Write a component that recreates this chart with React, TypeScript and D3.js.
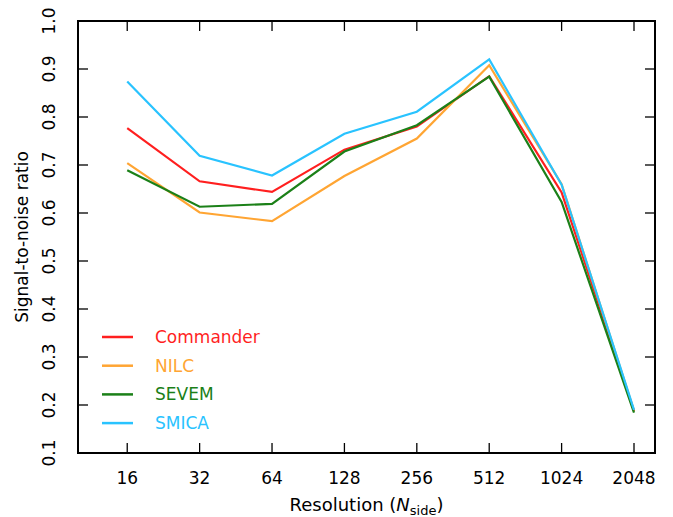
import React from "react";
import * as d3 from "d3";

const resolutions = ["16", "32", "64", "128", "256", "512", "1024", "2048"];
const commander = [0.777, 0.666, 0.644, 0.732, 0.780, 0.885, 0.643, 0.187];
const nilc = [0.704, 0.601, 0.583, 0.677, 0.755, 0.908, 0.660, 0.188];
const sevem = [0.689, 0.613, 0.619, 0.728, 0.783, 0.884, 0.623, 0.184];
const smica = [0.874, 0.719, 0.678, 0.765, 0.811, 0.920, 0.659, 0.190];
const yTicks = [0.1, 0.2, 0.3, 0.4, 0.5, 0.6, 0.7, 0.8, 0.9, 1.0];

const seriesNames = ["Commander", "NILC", "SEVEM", "SMICA"];
const seriesValues = [commander, nilc, sevem, smica];
const seriesColors = ["#ff1f1f", "#ffa533", "#1b8018", "#29c3ff"];

const W = 673, H = 517;
const L = 78, R = 655, T = 21, B = 453;
const FONT = "'DejaVu Sans', sans-serif";

export default function App() {
  const x = d3.scaleLinear().domain([-0.68, 7.29]).range([L, R]);
  const y = d3.scaleLinear().domain([0.1, 1.0]).range([B, T]);
  const line = d3
    .line<number>()
    .x((_, i) => x(i))
    .y((v) => y(v));
  const tick = 10;
  return (
    <svg
      width={W}
      height={H}
      style={{ position: "absolute", left: 0, top: 0, background: "#fff" }}
    >
      {seriesValues.map((vals, k) => (
        <path
          key={seriesNames[k]}
          d={line(vals) || ""}
          fill="none"
          stroke={seriesColors[k]}
          strokeWidth={2.2}
          strokeLinejoin="miter"
        />
      ))}
      {resolutions.map((r, i) => (
        <g key={r}>
          <line x1={x(i)} x2={x(i)} y1={B} y2={B - tick} stroke="#000" strokeWidth={1.3} />
          <line x1={x(i)} x2={x(i)} y1={T} y2={T + tick} stroke="#000" strokeWidth={1.3} />
          <text
            x={x(i)}
            y={484}
            textAnchor="middle"
            fontFamily={FONT}
            fontSize={17}
            fill="#000"
          >
            {r}
          </text>
        </g>
      ))}
      {yTicks.map((t) => (
        <g key={t}>
          <line x1={L} x2={L + tick} y1={y(t)} y2={y(t)} stroke="#000" strokeWidth={1.3} />
          <line x1={R} x2={R - tick} y1={y(t)} y2={y(t)} stroke="#000" strokeWidth={1.3} />
          <text
            transform={`translate(55,${y(t)}) rotate(-90)`}
            textAnchor="middle"
            fontFamily={FONT}
            fontSize={17}
            fill="#000"
          >
            {t.toFixed(1)}
          </text>
        </g>
      ))}
      <rect x={L} y={T} width={R - L} height={B - T} fill="none" stroke="#000" strokeWidth={2} />
      <text
        transform={`translate(28,${(T + B) / 2}) rotate(-90)`}
        textAnchor="middle"
        fontFamily={FONT}
        fontSize={17}
        fill="#000"
      >
        Signal-to-noise ratio
      </text>
      <text
        x={(L + R) / 2}
        y={511}
        textAnchor="middle"
        fontFamily={FONT}
        fontSize={18}
        fill="#000"
      >
        Resolution (
        <tspan fontStyle="italic">N</tspan>
        <tspan fontSize={13} dy={4}>side</tspan>
        <tspan dy={-4}>)</tspan>
      </text>
      {seriesNames.map((n, k) => {
        const ly = 337 + k * 28.7;
        return (
          <g key={n}>
            <line x1={102} x2={133} y1={ly} y2={ly} stroke={seriesColors[k]} strokeWidth={2.5} />
            <text x={155} y={ly + 6} fontFamily={FONT} fontSize={17} fill={seriesColors[k]}>
              {n}
            </text>
          </g>
        );
      })}
    </svg>
  );
}
